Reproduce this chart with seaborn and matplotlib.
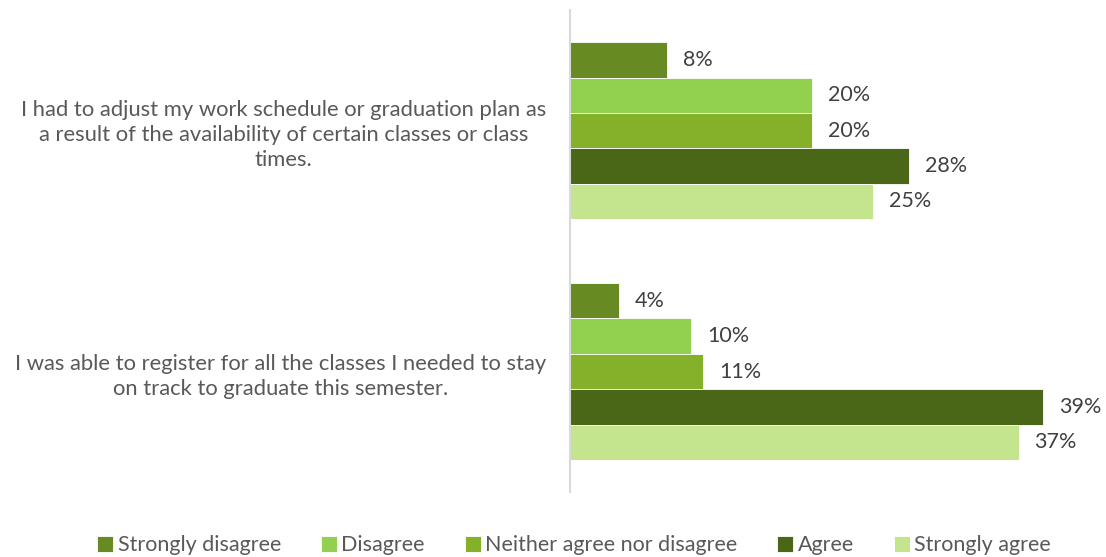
import pandas as pd
import matplotlib.pyplot as plt
import seaborn as sns

# data
statements = [
    "I had to adjust my work schedule or graduation plan as\na result of the availability of certain classes or class\ntimes.",
    "I was able to register for all the classes I needed to stay\non track to graduate this semester.",
]
responses = ['Strongly disagree', 'Disagree', 'Neither agree nor disagree', 'Agree', 'Strongly agree']
adjust_pct = [8, 20, 20, 28, 25]
register_pct = [4, 10, 11, 39, 37]
colors = ['#678A23', '#92D050', '#84B02A', '#4A6718', '#C5E48E']

rows = []
for stmt, vals in zip(statements, [adjust_pct, register_pct]):
    for resp, v in zip(responses, vals):
        rows.append({'Statement': stmt, 'Response': resp, 'Percent': v})
df = pd.DataFrame(rows)

sns.set_style('white')
plt.rcParams['font.family'] = ['Lato', 'DejaVu Sans']
text_color = '#595959'

fig = plt.figure(figsize=(11.06, 5.57), dpi=100)
ax = fig.add_axes([0.5154, 0.1167, 0.4702, 0.865])

sns.barplot(data=df, y='Statement', x='Percent', hue='Response',
            hue_order=responses, palette=colors, saturation=1, orient='h',
            width=0.735, edgecolor='white', linewidth=0.6, ax=ax)

for cont in ax.containers:
    ax.bar_label(cont, fmt='%d%%', padding=11.5, fontsize=15.5, color='#404040')

ax.set_xlim(0, 42.9)
ax.set_ylim(1.5, -0.5)
ax.set_xlabel('')
ax.set_ylabel('')
ax.set_xticks([])
ax.tick_params(axis='y', length=0, pad=17, labelsize=15.8, labelcolor=text_color)
for lbl in ax.get_yticklabels():
    lbl.set_multialignment('center')
    lbl.set_linespacing(1.32)

for side in ['top', 'right', 'bottom']:
    ax.spines[side].set_visible(False)
ax.spines['left'].set_color('#D9D9D9')
ax.spines['left'].set_linewidth(1.5)

handles, labels = ax.get_legend_handles_labels()
ax.legend_.remove()
fig.legend(handles, labels, loc='lower center', bbox_to_anchor=(0.519, -0.032),
           ncol=5, frameon=False, fontsize=15.5, labelcolor=text_color,
           handlelength=0.75, handleheight=0.75, handletextpad=0.2, columnspacing=1.85)

fig.savefig('out.png', dpi=100)
